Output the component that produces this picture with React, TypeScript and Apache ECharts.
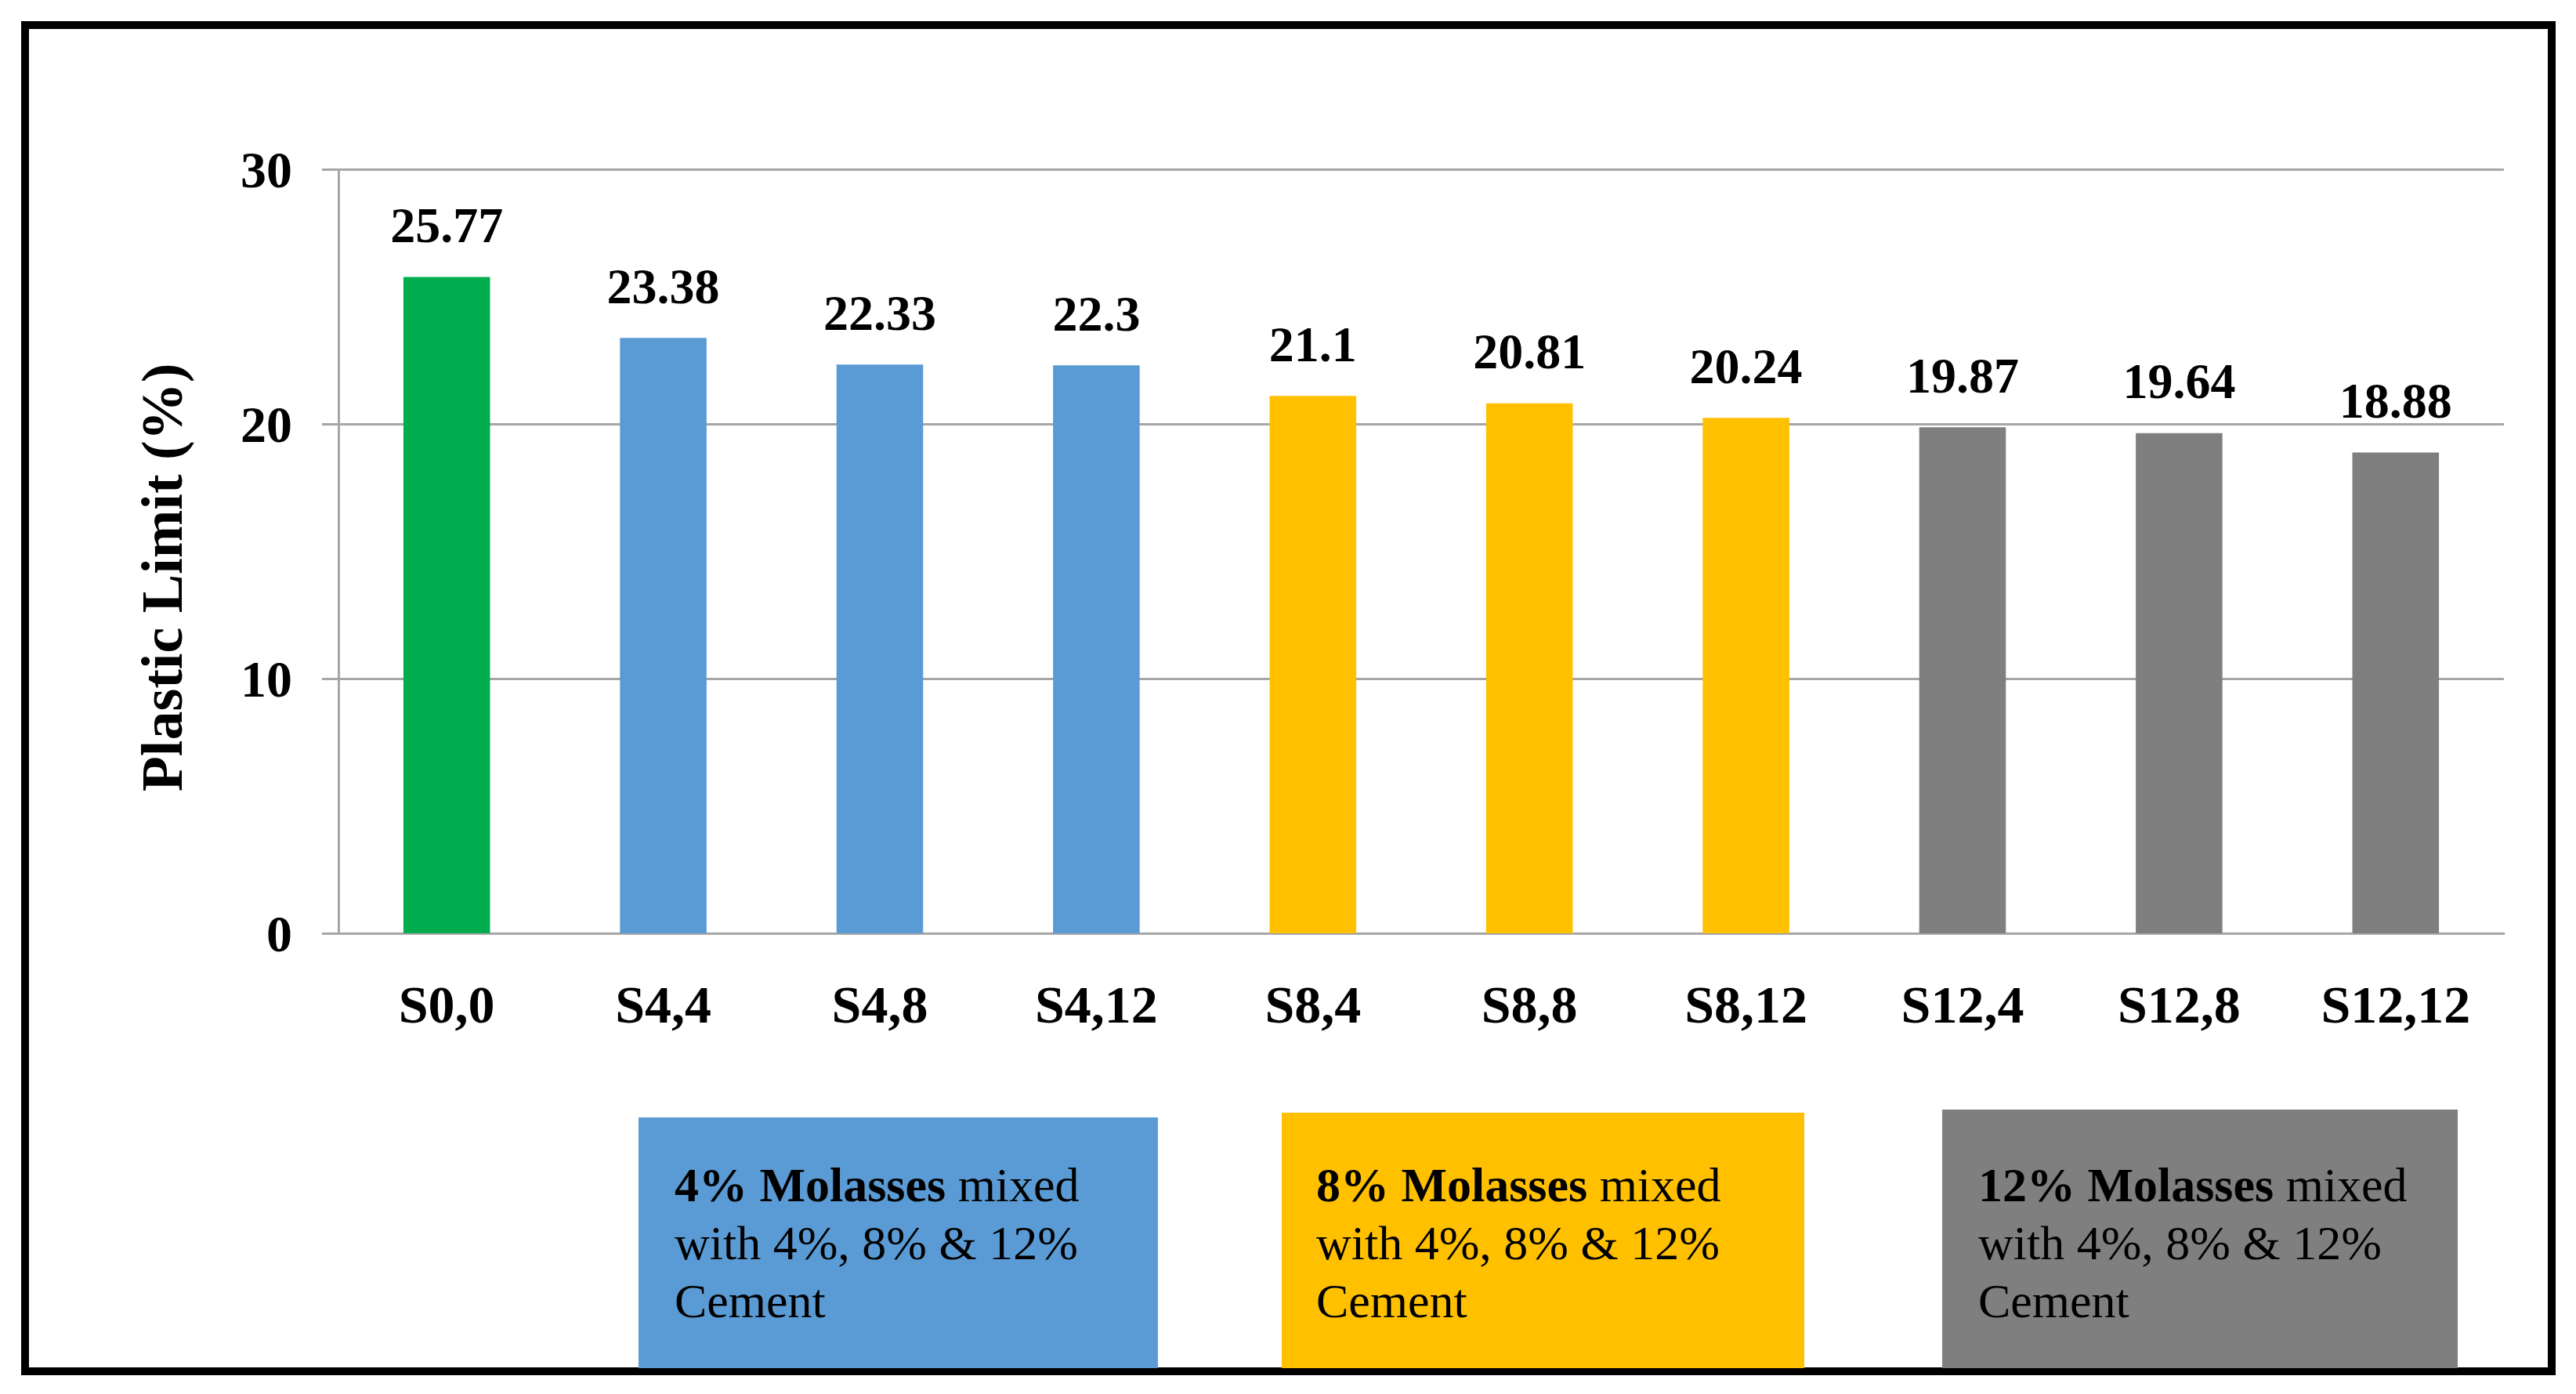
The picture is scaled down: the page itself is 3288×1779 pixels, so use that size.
import React, { useEffect, useRef } from "react";
import * as echarts from "echarts";

const categories = ["S0,0", "S4,4", "S4,8", "S4,12", "S8,4", "S8,8", "S8,12", "S12,4", "S12,8", "S12,12"];
const plasticLimit = [25.77, 23.38, 22.33, 22.3, 21.1, 20.81, 20.24, 19.87, 19.64, 18.88];
const categoryGroup = [0, 1, 1, 1, 2, 2, 2, 3, 3, 3];
const groupColors = ["#00AC4E", "#5B9BD5", "#FFC000", "#7F7F7F"];
const yMin = 0;
const yMax = 30;
const yInterval = 10;
const yTitle = "Plastic Limit (%)";
const boxBold = ["4% Molasses", "8% Molasses", "12% Molasses"];
const boxRestLine1 = " mixed";
const boxLine2 = "with 4%, 8% & 12%";
const boxLine3 = "Cement";

const FONT = "'Liberation Serif', 'Times New Roman', serif";

export default function App() {
  const ref = useRef<HTMLDivElement>(null);
  useEffect(() => {
    if (!ref.current) return;
    const chart = echarts.init(ref.current, undefined, { renderer: "svg" });
    const boxes = [
      { x: 815, y: 1426, w: 663, h: 320, color: groupColors[1], tx: 861 },
      { x: 1636, y: 1420, w: 667, h: 326, color: groupColors[2], tx: 1680 },
      { x: 2479, y: 1416, w: 658, h: 330, color: groupColors[3], tx: 2525 },
    ];
    const graphic: any[] = [
      {
        type: "rect",
        shape: { x: 32, y: 32, width: 3225, height: 1718 },
        style: { fill: "none", stroke: "#000", lineWidth: 10 },
        z: 1,
      },
      {
        type: "text",
        x: 207,
        y: 737,
        rotation: Math.PI / 2,
        style: {
          text: yTitle,
          fontFamily: FONT,
          fontWeight: "bold",
          fontSize: 74,
          fill: "#000",
          textAlign: "center",
          textVerticalAlign: "middle",
        },
        z: 10,
      },
    ];
    boxes.forEach((b, i) => {
      graphic.push({
        type: "rect",
        shape: { x: b.x, y: b.y, width: b.w, height: b.h },
        style: { fill: b.color },
        z: 5,
      });
      graphic.push({
        type: "text",
        x: b.tx,
        y: 1475,
        style: {
          text: `{b|${boxBold[i]}}{r|${boxRestLine1}}\n{r|${boxLine2}}\n{r|${boxLine3}}`,
          textAlign: "left",
          textVerticalAlign: "top",
          fill: "#000",
          rich: {
            b: { fontFamily: FONT, fontWeight: "bold", fontSize: 62, lineHeight: 74, fill: "#000" },
            r: { fontFamily: FONT, fontWeight: "normal", fontSize: 62, lineHeight: 74, fill: "#000" },
          },
        },
        z: 6,
      });
    });

    chart.setOption({
      animation: false,
      backgroundColor: "#fff",
      grid: { left: 432, right: 92, top: 216, bottom: 588, containLabel: false },
      xAxis: {
        type: "category",
        data: categories,
        axisLine: { show: true, lineStyle: { color: "#A6A6A6", width: 3 } },
        axisTick: { show: false },
        axisLabel: {
          margin: 57,
          fontFamily: FONT,
          fontWeight: "bold",
          fontSize: 68,
          color: "#000",
          interval: 0,
        },
      },
      yAxis: {
        type: "value",
        min: yMin,
        max: yMax,
        interval: yInterval,
        axisLine: { show: true, lineStyle: { color: "#A6A6A6", width: 3 } },
        axisTick: { show: true, length: 21, lineStyle: { color: "#A6A6A6", width: 3 } },
        splitLine: { show: true, lineStyle: { color: "#A6A6A6", width: 3 } },
        axisLabel: {
          margin: 59,
          fontFamily: FONT,
          fontWeight: "bold",
          fontSize: 66,
          color: "#000",
        },
      },
      series: [
        {
          type: "bar",
          barWidth: "40%",
          data: plasticLimit.map((v, i) => ({
            value: v,
            itemStyle: { color: groupColors[categoryGroup[i]] },
          })),
          label: {
            show: true,
            position: "top",
            distance: 34,
            formatter: "{c}",
            fontFamily: FONT,
            fontWeight: "bold",
            fontSize: 64,
            color: "#000",
          },
        },
      ],
      graphic,
    });
    return () => chart.dispose();
  }, []);
  return <div ref={ref} style={{ position: "absolute", left: 0, top: 0, width: 3288, height: 1779 }} />;
}
